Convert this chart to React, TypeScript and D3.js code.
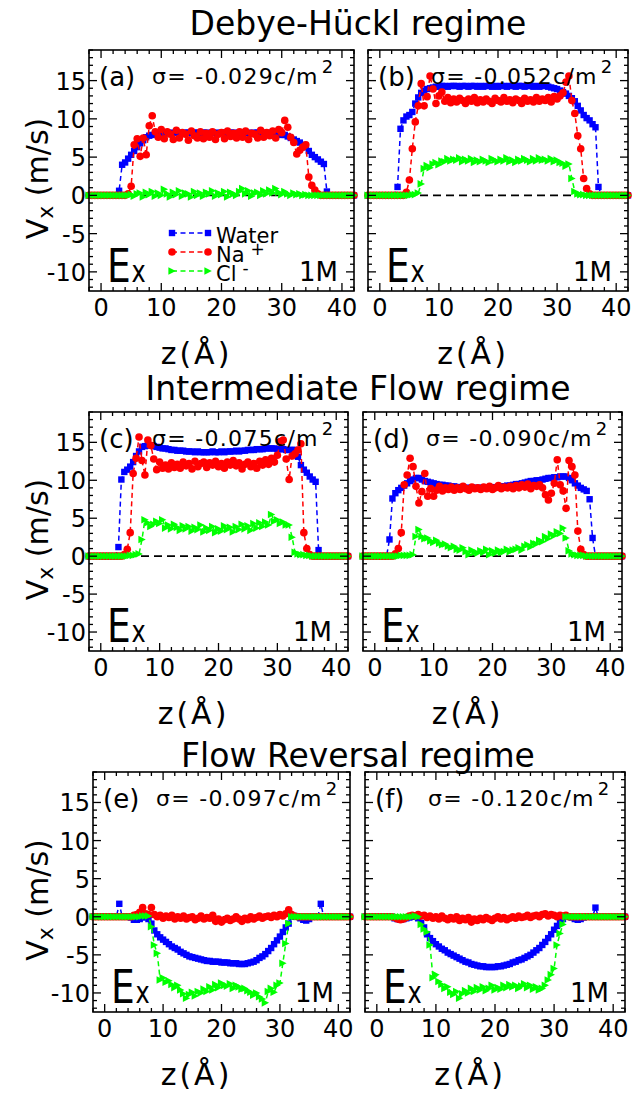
import React from 'react';
import * as d3 from 'd3';

// z positions (Å), shared by every series
const zGrid = [
  -2, -1.5, -1, -0.5, 0, 0.5, 1, 1.5, 2, 2.5,
  3, 3.5, 4, 4.5, 5, 5.5, 6, 6.5, 7, 7.5,
  8, 8.5, 9, 9.5, 10, 10.5, 11, 11.5, 12, 12.5,
  13, 13.5, 14, 14.5, 15, 15.5, 16, 16.5, 17, 17.5,
  18, 18.5, 19, 19.5, 20, 20.5, 21, 21.5, 22, 22.5,
  23, 23.5, 24, 24.5, 25, 25.5, 26, 26.5, 27, 27.5,
  28, 28.5, 29, 29.5, 30, 30.5, 31, 31.5, 32, 32.5,
  33, 33.5, 34, 34.5, 35, 35.5, 36, 36.5, 37, 37.5,
  38, 38.5, 39, 39.5, 40, 40.5, 41, 41.5, 42,
];

// ---------- (a) sigma = -0.029 ----------
const waterA = [
  0, 0, 0, 0, 0, 0, 0, 0, 0, 0,
  0.6, 4.0, 4.3, 4.8, 5.3, 5.8, 6.3, 6.8, 7.2, 7.6,
  7.8, 7.9, 8.0, 8.1, 8.1, 8.2, 8.2, 8.1, 8.2, 8.2,
  8.2, 8.1, 8.2, 8.2, 8.1, 8.2, 8.2, 8.1, 8.2, 8.2,
  8.1, 8.2, 8.2, 8.1, 8.2, 8.2, 8.1, 8.2, 8.2, 8.1,
  8.2, 8.2, 8.1, 8.2, 8.1, 8.2, 8.2, 8.1, 8.1, 8.2,
  8.1, 8.1, 8.0, 8.0, 7.9, 7.9, 7.7, 7.5, 7.3, 7.1,
  6.9, 6.6, 6.3, 5.8, 5.3, 5.0, 4.7, 4.4, 4.1, 0.5,
  0, 0, 0, 0, 0, 0, 0, 0, 0,
];
const naA = [
  0, 0, 0, 0, 0, 0, 0, 0, 0, 0,
  0, 0, 0, 0.2, 1.2, 6.6, 7.4, 5.1, 7.5, 5.3,
  9.1, 10.4, 8.3, 7.6, 8.6, 7.4, 8.3, 8.0, 7.3, 8.5,
  7.5, 8.2, 8.0, 7.2, 8.4, 7.8, 7.5, 8.3, 7.4, 8.1,
  7.6, 8.3, 7.3, 8.0, 8.2, 7.4, 8.4, 7.7, 8.1, 7.5,
  8.3, 7.6, 8.4, 7.3, 8.1, 8.0, 7.5, 8.5, 7.6, 8.2,
  7.8, 8.4, 7.5, 8.6, 8.2, 9.8, 8.9, 7.6, 6.9, 5.4,
  5.9, 6.3, 6.6, 2.4, 1.3, 0.7, 0.2, 0, 0, 0,
  0, 0, 0, 0, 0, 0, 0, 0, 0,
];
const clA = [
  0, 0, 0, 0, 0, 0, 0, 0, 0, 0,
  0, 0, 0, 0, 0.1, -0.1, 0.2, 0.3, -0.2, 0.4,
  0.1, 0.5, -0.1, 0.3, 0.0, 0.8, 0.2, -0.2, 0.4, 0.1,
  0.6, -0.1, 0.3, 0.2, -0.2, 0.5, 0.0, 0.3, -0.1, 0.4,
  0.2, 0.6, -0.1, 0.3, 0.1, 0.5, -0.2, 0.4, 0.2, 0.0,
  0.5, 0.9, 0.2, 0.6, -0.1, 0.3, 0.4, 0.0, 0.6, 0.2,
  0.7, 0.3, 0.9, 0.4, 0.1, 0.5, 0.2, 0.0, 0.3, 0.1,
  0.2, 0.0, 0.1, 0, 0, 0, 0, 0, 0, 0,
  0, 0, 0, 0, 0, 0, 0, 0, 0,
];

// ---------- (b) sigma = -0.052 ----------
const waterB = [
  0, 0, 0, 0, 0, 0, 0, 0, 0, 0,
  1.1, 8.7, 9.8, 10.3, 10.5, 10.9, 12.0, 12.8, 13.4, 13.7,
  13.9, 14.0, 14.1, 14.2, 14.2, 14.3, 14.3, 14.2, 14.3, 14.3,
  14.3, 14.2, 14.3, 14.3, 14.2, 14.3, 14.3, 14.2, 14.3, 14.2,
  14.3, 14.3, 14.2, 14.3, 14.2, 14.3, 14.3, 14.2, 14.3, 14.3,
  14.2, 14.3, 14.3, 14.2, 14.3, 14.3, 14.2, 14.3, 14.2, 14.3,
  14.3, 14.2, 14.1, 14.0, 13.9, 13.7, 13.5, 13.3, 13.0, 12.7,
  12.3, 11.7, 11.1, 10.5, 10.1, 9.8, 9.3, 8.9, 1.1, 0,
  0, 0, 0, 0, 0, 0, 0, 0, 0,
];
const naB = [
  0, 0, 0, 0, 0, 0, 0, 0, 0, 0,
  0, 0, 0, 0.4, 2.0, 6.1, 9.6, 11.7, 14.6, 11.7,
  12.9, 15.6, 13.9, 12.0, 13.0, 13.5, 12.3, 12.8, 12.1, 12.6,
  12.2, 12.7, 12.4, 12.0, 12.6, 12.3, 12.8, 12.1, 12.5, 12.2,
  12.6, 12.3, 12.0, 12.7, 12.4, 12.2, 12.8, 12.3, 12.5, 12.1,
  12.6, 12.4, 12.0, 12.7, 12.3, 12.5, 12.2, 12.8, 12.3, 12.6,
  12.4, 12.8, 12.2, 12.9, 12.6, 13.0, 13.4, 14.8, 15.6, 12.4,
  10.7, 7.8, 6.1, 2.2, 0.9, 0.2, 0, 0, 0, 0,
  0, 0, 0, 0, 0, 0, 0, 0, 0,
];
const clB = [
  0, 0, 0, 0, 0, 0, 0, 0, 0, 0,
  0, 0, 0, 0, 0, 0.1, 0.1, 0.3, 1.5, 3.5,
  3.9, 3.6, 4.1, 4.3, 4.0, 4.5, 4.4, 4.8, 4.5, 4.7,
  4.6, 4.9, 4.4, 4.7, 4.5, 4.8, 4.3, 4.6, 4.4, 4.7,
  4.5, 4.3, 4.8, 4.6, 4.4, 4.7, 4.5, 4.9, 4.4, 4.6,
  4.3, 4.7, 4.5, 4.8, 4.6, 4.4, 4.8, 4.5, 4.9, 4.6,
  4.7, 4.5, 4.8, 4.4, 4.6, 4.3, 4.2, 3.8, 4.1, 2.2,
  0.5, 0.2, 0.1, 0.1, 0.0, 0, 0, 0, 0, 0,
  0, 0, 0, 0, 0, 0, 0, 0, 0,
];

// ---------- (c) sigma = -0.075 ----------
const waterC = [
  0, 0, 0, 0, 0, 0, 0, 0, 0, 0,
  1.2, 10.1, 11.1, 11.4, 11.8, 12.4, 13.2, 13.8, 14.4, 14.5,
  14.6, 14.6, 14.5, 14.4, 14.3, 14.2, 14.2, 14.1, 14.0, 14.0,
  13.9, 13.9, 13.9, 13.8, 13.8, 13.8, 13.7, 13.8, 13.7, 13.7,
  13.7, 13.7, 13.8, 13.7, 13.7, 13.8, 13.7, 13.8, 13.8, 13.8,
  13.9, 13.8, 13.9, 13.9, 14.0, 14.0, 14.0, 14.1, 14.1, 14.1,
  14.2, 14.2, 14.2, 14.2, 14.1, 14.1, 14.1, 14.0, 14.0, 14.0,
  14.0, 13.1, 12.0, 11.4, 11.0, 10.5, 10.1, 9.8, 0.8, 0,
  0, 0, 0, 0, 0, 0, 0, 0, 0,
];
const naC = [
  0, 0, 0, 0, 0, 0, 0, 0, 0, 0,
  0, 0, 0.2, 0.9, 3.1, 10.9, 12.9, 15.7, 12.6, 10.7,
  15.3, 14.6, 12.8, 11.4, 12.4, 11.6, 12.0, 11.5, 12.3, 11.7,
  12.1, 11.6, 12.4, 11.9, 12.2, 11.5, 12.5, 11.8, 12.2, 12.4,
  11.7, 12.3, 12.0, 12.5, 11.8, 12.2, 11.6, 12.4, 12.0, 12.6,
  11.9, 12.3, 11.5, 12.1, 12.4, 11.8, 12.2, 11.6, 12.5, 12.0,
  12.7, 12.1, 12.9, 12.4, 13.3, 15.1, 15.3, 12.8, 10.1, 13.2,
  13.5, 14.0, 14.8, 3.1, 1.0, 0.2, 0, 0, 0, 0,
  0, 0, 0, 0, 0, 0, 0, 0, 0,
];
const clC = [
  0, 0, 0, 0, 0, 0, 0, 0, 0, 0,
  0, 0, 0, 0, 0.1, 0.1, 0.2, 0.3, 2.2, 4.8,
  4.4, 3.9, 4.2, 4.6, 4.3, 4.8, 3.7, 4.1, 3.6, 4.2,
  3.8, 3.4, 4.0, 3.6, 3.9, 3.3, 3.8, 3.5, 4.1, 3.2,
  3.7, 3.4, 3.9, 3.1, 3.6, 3.3, 4.0, 3.5, 3.8, 3.2,
  3.9, 3.5, 4.2, 3.6, 4.0, 3.4, 4.3, 3.7, 4.4, 3.9,
  4.5, 4.1, 5.5, 4.6, 4.8, 4.3, 4.5, 4.1, 4.1, 2.5,
  0.5, 0.3, 0.2, 0.2, 0.1, 0.1, 0, 0, 0, 0,
  0, 0, 0, 0, 0, 0, 0, 0, 0,
];

// ---------- (d) sigma = -0.090 ----------
const waterD = [
  0, 0, 0, 0, 0, 0, 0, 0, 0, 2.2,
  7.6, 8.3, 8.7, 9.0, 9.3, 9.6, 9.9, 10.1, 10.3, 10.3,
  10.1, 9.9, 9.8, 9.7, 9.6, 9.5, 9.4, 9.4, 9.3, 9.3,
  9.2, 9.2, 9.1, 9.1, 9.1, 9.0, 9.0, 9.0, 9.0, 9.0,
  9.0, 9.0, 9.0, 9.0, 9.0, 9.1, 9.1, 9.2, 9.2, 9.3,
  9.3, 9.4, 9.5, 9.5, 9.6, 9.7, 9.8, 9.9, 9.9, 10.0,
  10.0, 10.1, 10.2, 10.3, 10.3, 10.4, 10.4, 10.5, 10.5, 10.5,
  10.3, 10.0, 9.6, 9.3, 9.0, 8.8, 8.6, 7.5, 2.4, 0,
  0, 0, 0, 0, 0, 0, 0, 0, 0,
];
const naD = [
  0, 0, 0, 0, 0, 0, 0, 0, 0, 0,
  0, 0.3, 1.0, 3.1, 9.4, 10.7, 12.9, 11.8, 9.2, 7.0,
  8.5, 10.9, 7.9, 8.9, 7.9, 8.7, 9.2, 8.6, 9.0, 8.8,
  9.1, 8.7, 9.0, 8.8, 9.2, 8.9, 8.7, 9.1, 8.9, 9.0,
  8.8, 9.1, 8.9, 9.2, 8.8, 9.0, 9.3, 8.9, 9.1, 9.0,
  9.2, 8.9, 9.3, 9.0, 9.4, 9.1, 9.5, 8.9, 9.3, 9.2,
  9.4, 9.0, 8.1, 7.4, 8.3, 9.6, 12.7, 9.4, 8.6, 6.3,
  12.6, 11.8, 10.7, 3.3, 0.9, 0.2, 0, 0, 0, 0,
  0, 0, 0, 0, 0, 0, 0, 0, 0,
];
const clD = [
  0, 0, 0, 0, 0, 0, 0, 0, 0, 0,
  0, 0, 0, 0.1, 0.1, 0.1, 0.1, 0.2, 2.6, 3.5,
  2.6, 2.3, 2.4, 2.0, 1.8, 2.1, 1.7, 1.5, 1.6, 1.3,
  1.1, 1.3, 0.9, 0.8, 1.1, 0.6, 0.2, 0.8, 0.5, 0.4,
  0.7, 0.5, 0.9, 0.2, 0.7, 0.4, 0.8, 0.5, 0.6, 0.9,
  0.6, 0.8, 0.9, 1.1, 0.8, 1.3, 1.5, 1.2, 1.7, 1.6,
  2.1, 1.9, 2.6, 2.3, 2.9, 2.7, 3.2, 3.0, 3.7, 2.4,
  0.7, 0.3, 0.2, 0.1, 0.1, 0.1, 0, 0, 0, 0,
  0, 0, 0, 0, 0, 0, 0, 0, 0,
];

// ---------- (e) sigma = -0.097 ----------
const waterE = [
  0, 0, 0, 0, 0, 0, 0, 0, 0, 1.7,
  0, 0, 0, -0.1, -0.4, -0.4, -0.3, -0.1, 0, -0.3,
  -0.9, -1.8, -2.3, -2.7, -3.0, -3.3, -3.6, -3.9, -4.1, -4.3,
  -4.6, -4.8, -5.0, -5.2, -5.3, -5.4, -5.5, -5.6, -5.7, -5.8,
  -5.8, -5.9, -5.9, -5.9, -6.0, -6.0, -6.0, -6.1, -6.1, -6.1,
  -6.2, -6.2, -6.2, -6.1, -6.0, -5.9, -5.7, -5.4, -5.2, -4.9,
  -4.5, -4.1, -3.6, -3.1, -2.6, -2.0, -1.4, -0.9, 0, 0.1,
  0, -0.2, -0.4, -0.5, -0.3, 0, 0, 0, 1.7, 0,
  0, 0, 0, 0, 0, 0, 0, 0, 0,
];
const naE = [
  0, 0, 0, 0, 0, 0, 0, 0, 0, 0,
  0, 0, 0, 0, 0.2, 0.3, 0.6, 1.2, 0.4, 0.3,
  1.2, 0.3, 0.0, 0.2, -0.2, 0.1, -0.1, 0.2, -0.3, 0.0,
  -0.2, 0.1, -0.3, -0.1, 0.0, -0.4, -0.2, 0.1, -0.3, -0.1,
  -0.2, 0.2, -0.6, -0.3, -0.7, -0.4, -0.2, -0.5, -0.3, 0.0,
  -0.3, -0.6, -0.2, -0.4, 0.0, -0.3, -0.1, 0.1, -0.2, 0.0,
  0.1, -0.1, 0.2, 0.0, 0.3, 0.1, 0.4, 0.9, 0.3, 0.1,
  0, 0, 0, 0, 0, 0, 0, 0, 0, 0,
  0, 0, 0, 0, 0, 0, 0, 0, 0,
];
const clE = [
  0, 0, 0, 0, 0, 0, 0, 0, 0, 0,
  0, 0, 0, 0, 0, 0, 0, 0.1, 0.1, 0.1,
  -1.3, -3.7, -4.8, -8.3, -8.0, -8.6, -8.4, -8.9, -9.3, -9.0,
  -9.6, -10.1, -10.7, -10.2, -9.9, -10.4, -9.8, -10.0, -9.5, -9.8,
  -9.2, -9.6, -8.9, -9.3, -8.7, -9.0, -9.1, -8.8, -9.4, -9.0,
  -9.2, -9.5, -9.4, -9.7, -9.9, -10.3, -10.0, -10.5, -10.8, -11.3,
  -9.8, -9.4, -9.9, -9.0, -8.7, -6.1, -3.5, -0.9, 0, 0,
  0, 0, 0, 0, 0, 0, 0, 0, 0, 0,
  0, 0, 0, 0, 0, 0, 0, 0, 0,
];

// ---------- (f) sigma = -0.120 ----------
const waterF = [
  0, 0, 0, 0, 0, 0, 0, 0, 0, 0,
  -0.2, -0.3, -0.4, -0.3, -0.2, -0.1, 0, 0, -0.2, -0.8,
  -1.4, -2.3, -2.8, -3.2, -3.6, -3.9, -4.2, -4.4, -4.7, -4.9,
  -5.1, -5.3, -5.5, -5.7, -5.9, -6.0, -6.2, -6.3, -6.4, -6.5,
  -6.5, -6.6, -6.6, -6.6, -6.6, -6.5, -6.5, -6.4, -6.3, -6.2,
  -6.0, -5.9, -5.7, -5.6, -5.4, -5.2, -5.0, -4.7, -4.4, -4.1,
  -3.7, -3.3, -2.8, -2.3, -1.7, -1.2, -0.7, -0.3, 0, 0,
  -0.1, -0.3, -0.4, -0.3, -0.1, 0, 0, 0, 1.2, 0,
  0, 0, 0, 0, 0, 0, 0, 0, 0,
];
const naF = [
  0, 0, 0, 0, 0, 0, 0, 0, 0, 0,
  -0.1, -0.3, -0.4, -0.3, -0.1, 0.1, 0.2, 0.1, 0.3, 0.1,
  0.2, -0.1, 0.1, -0.2, 0.0, -0.3, 0.1, -0.2, -0.4, -0.1,
  -0.3, 0.0, -0.5, -0.2, -0.4, -0.1, -0.7, -0.3, -0.5, -0.2,
  -0.4, -0.1, -0.3, -0.5, -0.2, 0.0, -0.3, -0.1, -0.4, -0.2,
  0.0, -0.2, 0.1, -0.1, 0.0, 0.2, -0.1, 0.1, 0.2, 0.0,
  0.3, 0.4, 0.1, 0.3, 0.2, 0.0, 0.2, 0.1, 0.2, 0.0,
  0, 0, 0, 0, 0, 0, 0, 0, 0, 0,
  0, 0, 0, 0, 0, 0, 0, 0, 0,
];
const clF = [
  0, 0, 0, 0, 0, 0, 0, 0, 0, 0,
  0, 0, 0, 0, 0, 0, 0, 0.1, 0, -1.0,
  -1.6, -2.0, -3.7, -8.0, -7.6, -8.5, -8.9, -9.4, -9.2, -9.9,
  -10.2, -9.8, -10.7, -10.1, -9.7, -10.0, -9.4, -9.8, -9.3, -9.6,
  -9.2, -9.7, -9.4, -9.0, -9.6, -9.3, -9.5, -9.0, -9.3, -8.9,
  -9.2, -9.0, -9.4, -9.1, -8.8, -9.3, -9.0, -9.5, -9.2, -9.6,
  -9.4, -9.0, -8.3, -7.6, -6.8, -3.7, -2.2, -1.0, 0, 0,
  0, 0, 0, 0, 0, 0, 0, 0, 0, 0,
  0, 0, 0, 0, 0, 0, 0, 0, 0,
];

const panelTags = ['(a)', '(b)', '(c)', '(d)', '(e)', '(f)'];
const sigmaValues = ['-0.029', '-0.052', '-0.075', '-0.090', '-0.097', '-0.120'];
const regimeTitles = ['Debye-Hückl regime', 'Intermediate Flow regime', 'Flow Reversal regime'];
const waterSeries = [waterA, waterB, waterC, waterD, waterE, waterF];
const naSeries = [naA, naB, naC, naD, naE, naF];
const clSeries = [clA, clB, clC, clD, clE, clF];
const xTicks = [0, 10, 20, 30, 40];
const yTicks = [-10, -5, 0, 5, 10, 15];
const xDomain = [-2, 42];
const yDomain = [-12.5, 19];

// layout (pixels)
const boxes = [
  { x0: 89, x1: 354, top: 50, bottom: 291 },
  { x0: 368, x1: 628, top: 50, bottom: 291 },
  { x0: 89, x1: 348, top: 412, bottom: 651 },
  { x0: 363, x1: 622, top: 412, bottom: 651 },
  { x0: 93, x1: 350, top: 772, bottom: 1012 },
  { x0: 365, x1: 625, top: 772, bottom: 1012 },
];
const titleY = [35, 400, 767];

const FONT = 'DejaVu Sans, sans-serif';
const BLUE = '#0000ff';
const RED = '#ff0000';
const GREEN = '#00ff00';

const triPath = 'M-3.6,-3.8L3.8,0L-3.6,3.8Z';

function Marker({ kind, x, y }: { kind: string; x: number; y: number }) {
  if (kind === 'water') return <rect x={x - 3.2} y={y - 3.2} width={6.4} height={6.4} fill={BLUE} />;
  if (kind === 'na') return <circle cx={x} cy={y} r={3.8} fill={RED} />;
  return <path d={triPath} transform={`translate(${x},${y})`} fill={GREEN} />;
}

function Panel({ idx }: { idx: number }) {
  const b = boxes[idx];
  const x = d3.scaleLinear().domain(xDomain).range([b.x0, b.x1]);
  const y = d3.scaleLinear().domain(yDomain).range([b.bottom, b.top]);
  const isLeft = idx % 2 === 0;
  const series = [
    { kind: 'water', color: BLUE, vals: waterSeries[idx] },
    { kind: 'na', color: RED, vals: naSeries[idx] },
    { kind: 'cl', color: GREEN, vals: clSeries[idx] },
  ];
  const line = d3
    .line<number>()
    .x((_, i) => x(zGrid[i]))
    .y((v) => y(v));
  const xMinor = d3.range(-2, 42.01, 2);
  const yMinor = d3.range(-12, 19.01, 1);
  const MAJ = 8;
  const MIN = 4;
  const tickStroke = { stroke: '#000', strokeWidth: 1.3 };
  return (
    <g>
      {/* zero line */}
      <line x1={b.x0} x2={b.x1} y1={y(0)} y2={y(0)} stroke="#000" strokeWidth={1.6} strokeDasharray="8,5" />
      {series.map((s) => (
        <g key={s.kind}>
          <path d={line(s.vals) || ''} fill="none" stroke={s.color} strokeWidth={1.5} strokeDasharray="5,3.5" />
          {s.vals.map((v, i) => (
            <Marker key={i} kind={s.kind} x={x(zGrid[i])} y={y(v)} />
          ))}
        </g>
      ))}
      {/* frame */}
      <rect x={b.x0} y={b.top} width={b.x1 - b.x0} height={b.bottom - b.top} fill="none" stroke="#000" strokeWidth={1.6} />
      {xMinor.map((t) => {
        const len = xTicks.includes(t) ? MAJ : MIN;
        return (
          <g key={'xt' + t}>
            <line x1={x(t)} x2={x(t)} y1={b.bottom} y2={b.bottom - len} {...tickStroke} />
            <line x1={x(t)} x2={x(t)} y1={b.top} y2={b.top + len} {...tickStroke} />
          </g>
        );
      })}
      {yMinor.map((t) => {
        const len = yTicks.includes(t) ? MAJ : MIN;
        return (
          <g key={'yt' + t}>
            <line x1={b.x0} x2={b.x0 + len} y1={y(t)} y2={y(t)} {...tickStroke} />
            <line x1={b.x1} x2={b.x1 - len} y1={y(t)} y2={y(t)} {...tickStroke} />
          </g>
        );
      })}
      {xTicks.map((t) => (
        <text key={'xl' + t} x={x(t)} y={b.bottom + 25} textAnchor="middle" fontSize={24} fontFamily={FONT}>
          {t}
        </text>
      ))}
      {isLeft &&
        yTicks.map((t) => (
          <text key={'yl' + t} x={b.x0 - 3} y={y(t) + 9} textAnchor="end" fontSize={24} fontFamily={FONT}>
            {t}
          </text>
        ))}
      {/* annotations */}
      <text x={b.x0 + 10} y={b.top + 36} fontSize={26} fontFamily={FONT}>
        {panelTags[idx]}
      </text>
      <text x={b.x0 + 63} y={b.top + 34} fontSize={22} fontFamily={FONT} letterSpacing={1.3}>
        {'σ= ' + sigmaValues[idx] + 'c/m'}
        <tspan fontSize={18} dy={-11} dx={3}>
          2
        </tspan>
      </text>
      <text
        transform={`translate(${b.x0 + 18},${b.bottom - 9}) scale(0.8,1)`}
        fontSize={47}
        fontFamily={FONT}
      >
        E
        <tspan fontSize={30} dx={1}>
          x
        </tspan>
      </text>
      <text x={b.x1 - 16} y={b.bottom - 10} textAnchor="end" fontSize={26} fontFamily={FONT}>
        1M
      </text>
      <text
        x={(b.x0 + b.x1) / 2 - 25}
        y={b.bottom + 73}
        textAnchor="middle"
        fontSize={30}
        fontFamily={FONT}
        letterSpacing={3}
      >
        z(Å)
      </text>
      {isLeft && (
        <text
          transform={`translate(${48},${(b.top + b.bottom) / 2 + 8}) rotate(-90)`}
          textAnchor="middle"
          fontSize={30}
          fontFamily={FONT}
        >
          V
          <tspan fontSize={22} dy={5}>
            x
          </tspan>
          <tspan dy={-5}> (m/s)</tspan>
        </text>
      )}
    </g>
  );
}

function Legend() {
  const items = [
    { kind: 'water', color: BLUE, label: 'Water', sup: '' },
    { kind: 'na', color: RED, label: 'Na', sup: '+' },
    { kind: 'cl', color: GREEN, label: 'Cl', sup: '-' },
  ];
  const x1 = 172;
  const x2 = 208;
  const ys = [233, 252, 271];
  return (
    <g>
      {items.map((it, i) => (
        <g key={it.kind}>
          <line x1={x1} x2={x2} y1={ys[i]} y2={ys[i]} stroke={it.color} strokeWidth={1.5} strokeDasharray="5,3.5" />
          <Marker kind={it.kind} x={x1} y={ys[i]} />
          <Marker kind={it.kind} x={x2} y={ys[i]} />
          <text x={216} y={ys[i] + 10} fontSize={21} fontFamily={FONT}>
            {it.label}
            {it.sup && (
              <tspan fontSize={17} dx={6} dy={-7}>
                {it.sup}
              </tspan>
            )}
          </text>
        </g>
      ))}
    </g>
  );
}

export default function App() {
  return (
    <svg width={638} height={1096} style={{ position: 'absolute', left: 0, top: 0, background: '#fff' }}>
      <rect x={0} y={0} width={638} height={1096} fill="#fff" />
      {regimeTitles.map((t, i) => (
        <text key={t} x={358} y={titleY[i]} textAnchor="middle" fontSize={33} fontFamily={FONT}>
          {t}
        </text>
      ))}
      {boxes.map((_, i) => (
        <Panel key={i} idx={i} />
      ))}
      <Legend />
    </svg>
  );
}
